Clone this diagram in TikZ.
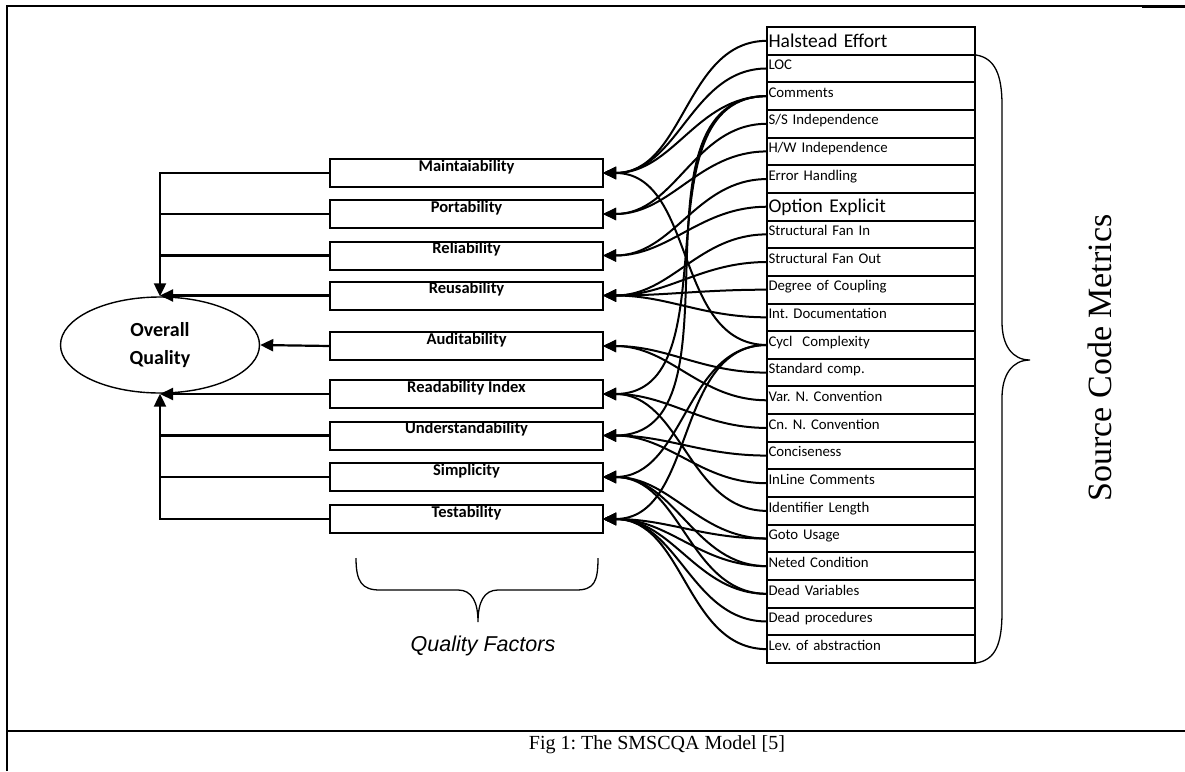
\documentclass[tikz,border=0pt]{standalone}
\usepackage{fontspec}
\setmainfont{Carlito}
\newfontfamily\capfont{Liberation Serif}
\newfontfamily\arialfont{Liberation Sans}
\usetikzlibrary{positioning,shapes.geometric,arrows.meta}
\frenchspacing
\tikzset{factor/.style={draw,line width=2pt,minimum width=273pt,minimum height=28pt,inner sep=0pt,outer sep=0pt,text height=10pt,text depth=14pt,font=\fontsize{16.5}{18}\selectfont\bfseries}}
\tikzset{metric/.style={draw,line width=2pt,minimum height=27.65pt,text width=205pt,inner xsep=1.5pt,inner ysep=0pt,outer sep=0pt,align=left,text height=15pt,text depth=12.65pt,font=\fontsize{14.8}{16}\selectfont}}
\tikzset{big metric/.style={metric,text height=20pt,text depth=7.65pt,font=\fontsize{19.5}{21}\selectfont}}
\tikzset{trunk/.style={line width=2.2pt}}
\tikzset{trunk arrow/.style={trunk,-{Triangle[length=13pt,width=12pt]}}}
\tikzset{link/.style={{Triangle[length=13pt,width=12pt]}-,line width=2pt,out=0,in=180}}

\begin{document}
\begin{tikzpicture}[x=1pt,y=-1pt]
\useasboundingbox (0,0) rectangle (1185,771);

% frame
\draw[line width=2.2pt] (7,771) -- (7,6) -- (38,6);
\draw[line width=1.2pt] (7,6) -- (1185,6);
\draw[line width=2.8pt] (1142,6.5) -- (1185,6.5);
\draw[line width=2.2pt] (7,731) -- (1185,731);

% quality factors
\node[factor] (maint) at (466.5,173) {Maintaiability};
\node[factor] (port) at (466.5,214) {Portability};
\node[factor] (rel) at (466.5,255.5) {Reliability};
\node[factor] (reus) at (466.5,295.5) {Reusability};
\node[factor] (audit) at (466.5,346) {Auditability};
\node[factor] (read) at (466.5,394) {Readability Index};
\node[factor] (under) at (466.5,435.5) {Understandability};
\node[factor] (simp) at (466.5,477) {Simplicity};
\node[factor] (test) at (466.5,519) {Testability};

\node[ellipse,draw,line width=1.4pt,minimum width=199pt,minimum height=96pt,inner sep=0pt,align=center,font=\fontsize{20}{28}\selectfont\bfseries] (overall) at (160,345) {Overall\\Quality};

% source code metrics
\node[big metric,anchor=north west] (halstead) at (767,27) {Halstead Effort};
\node[metric,below=0pt of halstead] (loc) {LOC};
\node[metric,below=0pt of loc] (comments) {Comments};
\node[metric,below=0pt of comments] (ss) {S/S Independence};
\node[metric,below=0pt of ss] (hw) {H/W Independence};
\node[metric,below=0pt of hw] (error) {Error Handling};
\node[big metric,below=0pt of error] (option) {Option Explicit};
\node[metric,below=0pt of option] (fanin) {Structural Fan In};
\node[metric,below=0pt of fanin] (fanout) {Structural Fan Out};
\node[metric,below=0pt of fanout] (coupling) {Degree of Coupling};
\node[metric,below=0pt of coupling] (intdoc) {Int. Documentation};
\node[metric,below=0pt of intdoc] (cycl) {Cycl\ \ Complexity};
\node[metric,below=0pt of cycl] (standard) {Standard comp.};
\node[metric,below=0pt of standard] (varnc) {Var. N. Convention};
\node[metric,below=0pt of varnc] (cnnc) {Cn. N. Convention};
\node[metric,below=0pt of cnnc] (concise) {Conciseness};
\node[metric,below=0pt of concise] (inline) {InLine Comments};
\node[metric,below=0pt of inline] (ident) {Identifier Length};
\node[metric,below=0pt of ident] (goto) {Goto Usage};
\node[metric,below=0pt of goto] (neted) {Neted Condition};
\node[metric,below=0pt of neted] (deadvar) {Dead Variables};
\node[metric,below=0pt of deadvar] (deadproc) {Dead procedures};
\node[metric,below=0pt of deadproc] (abstr) {Lev. of abstraction};

% factors to overall quality
\draw[trunk arrow] (maint.west) -| (overall.north);
\draw[trunk] (port.west) -- (port.west -| overall.north);
\draw[trunk] (rel.west) -- (rel.west -| overall.north);
\draw[trunk arrow] (reus.west) -- (reus.west -| overall.north);
\draw[trunk arrow] (audit.west) -- (overall.east);
\draw[trunk arrow] (read.west) -- (read.west -| overall.south);
\draw[trunk] (under.west) -- (under.west -| overall.south);
\draw[trunk] (simp.west) -- (simp.west -| overall.south);
\draw[trunk arrow] (test.west) -| (overall.south);

% metrics to factors
\draw[link] (maint.east) to (halstead.west);
\draw[link] (maint.east) to (loc.west);
\draw[link] (maint.east) to (comments.west);
\draw[link] (maint.east) to (cycl.west);
\draw[link] (port.east) to (ss.west);
\draw[link] (port.east) to (hw.west);
\draw[link] (rel.east) to (error.west);
\draw[link] (rel.east) to (option.west);
\draw[link] (reus.east) to (fanin.west);
\draw[link] (reus.east) to (fanout.west);
\draw[link] (reus.east) to (coupling.west);
\draw[link] (reus.east) to (intdoc.west);
\draw[link] (audit.east) to (standard.west);
\draw[link] (audit.east) to (varnc.west);
\draw[link] (read.east) to (comments.west);
\draw[link] (read.east) to (cnnc.west);
\draw[link] (read.east) to (ident.west);
\draw[link] (under.east) to (comments.west);
\draw[link] (under.east) to (concise.west);
\draw[link] (under.east) to (inline.west);
\draw[link] (simp.east) to (cycl.west);
\draw[link] (simp.east) to (goto.west);
\draw[link] (simp.east) to (neted.west);
\draw[link] (simp.east) to (deadvar.west);
\draw[link] (test.east) to (cycl.west);
\draw[link] (test.east) to (goto.west);
\draw[link] (test.east) to (neted.west);
\draw[link] (test.east) to (deadvar.west);
\draw[link] (test.east) to (deadproc.west);
\draw[link] (test.east) to (abstr.west);

% braces
\draw[line width=1.3pt] (356,558) .. controls (356,582) and (362,590) .. (380,590) -- (458,590)
  .. controls (472,590) and (478,602) .. (478,622) .. controls (478,602) and (484,590) .. (498,590)
  -- (576,590) .. controls (594,590) and (598,582) .. (598,558);
\draw[line width=1.3pt] (976,55) .. controls (995,58) and (1002,75) .. (1002,105) -- (1002,322)
  .. controls (1002,345) and (1012,360) .. (1030,360) .. controls (1012,360) and (1002,375) .. (1002,398)
  -- (1002,612) .. controls (1002,645) and (995,660) .. (976,663);

\node[font=\arialfont\itshape\fontsize{21.5}{24}\selectfont] (qflabel) at (483,646) {Quality Factors};
\node[rotate=90,font=\capfont\fontsize{34}{38}\selectfont] (scmlabel) at (1100,358) {Source Code Metrics};
\node[font=\capfont\fontsize{20}{24}\selectfont] (caption) at (657,745) {Fig 1: The SMSCQA Model [5]};
\end{tikzpicture}
\end{document}
